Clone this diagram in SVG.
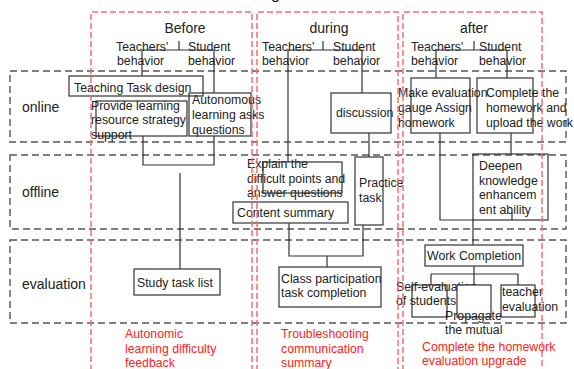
<svg xmlns="http://www.w3.org/2000/svg" width="574" height="369" viewBox="0 0 574 369">
<style>
text{font-family:"Liberation Sans",Arial,sans-serif;fill:#222}
.h{font-size:14px;text-anchor:middle}
.r{font-size:14px}
.t{font-size:12.3px}
.red{font-size:12.3px;fill:#f22}
.row{fill:none;stroke:#555;stroke-width:1.4;stroke-dasharray:7 4}
.col{fill:none;stroke:#ff6a6a;stroke-width:1.5;stroke-dasharray:6 3}
.box{fill:none;stroke:#333;stroke-width:1.2}
.wbox{fill:#fff;stroke:#333;stroke-width:1.2}
.ln{fill:none;stroke:#333;stroke-width:1.2}
</style>
<rect width="574" height="369" fill="#fff"/>
<text x="271" y="-1.5" style="font-size:16px">g</text>
<g id="rows">
<rect class="row" x="10" y="71" width="556" height="71"/>
<rect class="row" x="10" y="155" width="556" height="74"/>
<rect class="row" x="10" y="240" width="556" height="83"/>
<text class="r" x="22" y="112">online</text>
<text class="r" x="22" y="197">offline</text>
<text class="r" x="22" y="289">evaluation</text>
</g>
<g id="connectors">
<path class="ln" d="M179 41V50M142 50H214M142 50V76M214 50V93"/>
<path class="ln" d="M323 41V50M288 50H362M288 50V162M362 50V93"/>
<path class="ln" d="M474 41V50M436 50H507M436 50V78M507 50V78"/>
<path class="ln" d="M143 136V165H214V136M180 173V269"/>
<path class="ln" d="M369 133V157M289 223V256H363V225M327 256V267"/>
<path class="ln" d="M440 133V220H473M511 133V154M512 212V220M473 220V245M474 266V274M431 274H518M431 274V285M474 274V285M518 274V285"/>
</g>
<g id="before">
<text class="h" x="185" y="33">Before</text>
<text class="t" x="116" y="51">Teachers'</text>
<text class="t" x="117" y="65">behavior</text>
<text class="t" x="188" y="51">Student</text>
<text class="t" x="188" y="65">behavior</text>
</g>
<g id="teaching-task">
<rect class="box" x="69" y="76" width="134" height="20"/>
<text class="t" x="74" y="92">Teaching Task design</text>
</g>
<g id="provide">
<rect class="box" x="96" y="101" width="91" height="35"/>
<text class="t" x="91" y="110">Provide learning</text>
<text class="t" x="91" y="124">resource strategy</text>
<text class="t" x="91" y="139">support</text>
</g>
<g id="autonomous">
<rect class="box" x="189" y="93" width="62" height="43"/>
<text class="t" x="192" y="104">Autonomous</text>
<text class="t" x="192" y="119">learning asks</text>
<text class="t" x="192" y="134">questions</text>
</g>
<g id="study">
<rect class="box" x="134" y="269" width="86" height="26"/>
<text class="t" x="137" y="287">Study task list</text>
</g>
<g id="during">
<text class="h" x="329" y="33">during</text>
<text class="t" x="262" y="51">Teachers'</text>
<text class="t" x="262" y="65">behavior</text>
<text class="t" x="333" y="51">Student</text>
<text class="t" x="333" y="65">behavior</text>
</g>
<g id="discussion">
<rect class="box" x="331" y="93" width="60" height="40"/>
<text class="t" x="336" y="117">discussion</text>
</g>
<g id="explain">
<text class="t" x="247" y="168">Explain the</text>
<text class="t" x="247" y="183">difficult points and</text>
<text class="t" x="247" y="197">answer questions</text>
<rect class="box" x="263" y="162" width="79" height="31"/>
</g>
<g id="practice">
<rect class="box" x="355" y="157" width="28" height="68"/>
<text class="t" x="359" y="187">Practice</text>
<text class="t" x="359" y="202">task</text>
</g>
<g id="content">
<rect class="box" x="233" y="202" width="115" height="21"/>
<text class="t" x="237" y="217">Content summary</text>
</g>
<g id="class">
<rect class="box" x="279" y="267" width="102" height="40"/>
<text class="t" x="281" y="283">Class participation</text>
<text class="t" x="281" y="297">task completion</text>
</g>
<g id="after">
<text class="h" x="474" y="33">after</text>
<text class="t" x="411" y="51">Teachers'</text>
<text class="t" x="411" y="65">behavior</text>
<text class="t" x="479" y="51">Student</text>
<text class="t" x="479" y="65">behavior</text>
</g>
<g id="make-eval">
<rect class="box" x="411" y="78" width="59" height="55"/>
<text class="t" x="398" y="97">Make evaluation</text>
<text class="t" x="398" y="112">gauge Assign</text>
<text class="t" x="398" y="127">homework</text>
</g>
<g id="complete">
<rect class="box" x="477" y="78" width="56" height="55"/>
<text class="t" x="486" y="97">Complete the</text>
<text class="t" x="486" y="112">homework and</text>
<text class="t" x="486" y="127">upload the work</text>
</g>
<g id="deepen">
<rect class="box" x="473" y="154" width="75" height="66"/>
<text class="t" x="479" y="170">Deepen</text>
<text class="t" x="479" y="185">knowledge</text>
<text class="t" x="479" y="199">enhancem</text>
<text class="t" x="479" y="214">ent ability</text>
</g>
<g id="work">
<rect class="box" x="425" y="245" width="98" height="21"/>
<text class="t" x="427" y="260">Work Completion</text>
</g>
<g id="self">
<rect class="box" x="412" y="285" width="35" height="32"/>
<text class="t" x="396" y="291">Self-evaluation</text>
<text class="t" x="396" y="305">of students</text>
</g>
<g id="propagate">
<rect class="wbox" x="457" y="285" width="34" height="32"/>
<text class="t" x="445" y="320">Propagate</text>
<text class="t" x="445" y="334">the mutual</text>
</g>
<g id="teacher-eval">
<rect class="box" x="501" y="285" width="34" height="32"/>
<text class="t" x="502" y="296">teacher</text>
<text class="t" x="502" y="311">evaluation</text>
</g>
<g id="notes">
<text class="red" x="125" y="338">Autonomic</text>
<text class="red" x="125" y="353">learning difficulty</text>
<text class="red" x="125" y="367">feedback</text>
<text class="red" x="281" y="338">Troubleshooting</text>
<text class="red" x="281" y="353">communication</text>
<text class="red" x="281" y="367">summary</text>
<text class="red" x="422" y="351">Complete the homework</text>
<text class="red" x="422" y="365">evaluation upgrade</text>
</g>
<g id="columns">
<path class="col" d="M91 380V12H252V380"/>
<path class="col" d="M257 380V12H398V380"/>
<path class="col" d="M403 380V12H542V380"/>
</g>
</svg>
